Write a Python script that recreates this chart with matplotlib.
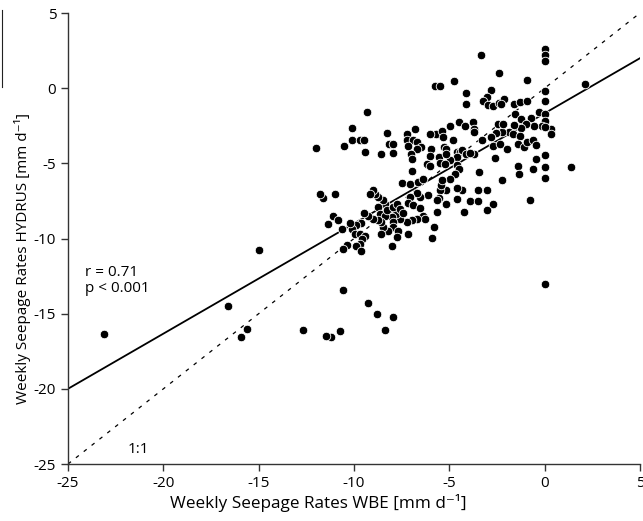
import numpy as np
import matplotlib
matplotlib.use("Agg")
import matplotlib.pyplot as plt
from matplotlib.lines import Line2D

plt.rcParams['font.family'] = ['Open Sans', 'DejaVu Sans']
plt.rcParams['axes.unicode_minus'] = False

# weekly seepage rates [mm/d]: water balance estimate vs HYDRUS
wbe = [
    -3.33, 0.0, 0.0, 0.0, -2.40, -4.73, -5.74, -5.50, -0.92, 2.14,
    -9.34, -4.13, -2.80, -3.01, -3.22, -2.96, -2.70, -2.40, -2.12, -2.30,
    -4.13, -1.63, -1.27, -0.92, 0.0, 0.0, -1.58, -1.25, -0.74, -0.29,
    0.0, 0.0, 0.34, 0.34, -0.16, -0.57, -1.00, -1.23, -1.63, -1.88,
    -1.65, -1.28, -1.39, -1.09, -0.95, -0.60, -0.43, 0.0, 0.0, -0.43,
    0.0, 0.0, -0.60, 1.37, -1.40, -1.35, -0.78,
    -10.13, -10.08, -9.69, -9.48, -9.43, -10.53, -8.29, -8.15, -7.94, -7.94,
    -8.56, -7.24, -6.81, -7.21, -6.90, -6.68, -6.46, -7.16, -6.67, -7.02,
    -6.98, -5.97, -6.02, -6.16, -5.99, -5.55, -5.71, -6.02, -5.41, -4.97,
    -4.48, -4.19, -3.75, -3.71, -3.71, -5.32, -5.29, -5.15, -4.80, -4.62,
    -4.45, -4.31, -4.10, -3.71, -3.92, -4.59, -4.97, -5.50, -5.22, -4.62,
    -4.48, -4.71, -4.97, -5.15, -3.28, -2.70, -2.61, -2.35, -2.00, -2.26,
    -2.56, -2.79, -2.47, -2.21, -3.43, -2.23, -3.05, -3.50, -3.92, -3.49,
    -2.73, -3.05, -4.24, -4.31, -4.62, -4.59, -5.15, -5.18, -5.50, -5.46,
    -5.36, -5.53, -5.67, -5.64, -5.81, -5.93,
    -6.96, -7.47, -7.07, -6.63, -6.37, -6.11, -6.55, -6.72, -7.07, -7.16,
    -6.90, -6.55, -6.37, -6.28, -6.72, -6.98, -7.21, -7.59, -7.80, -8.03,
    -8.15, -8.36, -8.47, -8.73, -8.91, -8.99, -9.17, -8.73, -8.64, -8.38,
    -8.29, -7.94, -7.73, -7.59, -7.42, -7.94, -7.98, -7.68, -8.20, -8.47,
    -8.56, -8.73, -8.99, -9.26, -9.48, -9.64, -9.87, -10.13, -10.22, -9.95,
    -9.69, -9.43, -9.60, -9.69, -9.87, -10.39, -10.57, -9.64, -8.03, -7.77,
    -8.61, -7.16, -11.00, -11.62, -11.79, -11.09, -11.35, -10.83, -10.65,
    -12.01, -15.00,
    -23.11, -16.61, -15.93, -15.60, -12.66, -10.57, -9.29, -8.78, -7.93, -8.36,
    -10.74, -11.23, -11.48, 0.0,
]
hydrus = [
    2.20, 2.64, 2.20, 1.80, 1.02, 0.47, 0.13, 0.13, 0.53, 0.31,
    -1.58, -0.33, -0.15, -0.56, -0.84, -1.09, -1.20, -0.98, -0.73, -1.02,
    -1.02, -1.07, -0.93, -0.84, -0.22, -0.84, -1.69, -2.02, -1.98, -1.58,
    -1.69, -2.18, -2.73, -3.07, -2.53, -2.53, -2.40, -2.62, -2.47, -2.91,
    -3.02, -3.20, -3.73, -3.91, -3.58, -3.47, -3.80, -2.58, -4.47, -4.69,
    -5.24, -5.98, -5.36, -5.24, -5.18, -5.69, -7.47,
    -2.64, -3.42, -3.47, -3.47, -4.24, -3.82, -2.98, -3.69, -3.69, -4.31,
    -4.36, -3.02, -2.73, -3.42, -3.47, -3.58, -3.91, -3.87, -4.02, -4.36,
    -4.69, -4.02, -4.53, -5.07, -5.18, -4.58, -3.07, -3.07, -2.84, -2.53,
    -2.24, -2.53, -2.24, -2.69, -2.91, -3.24, -3.91, -4.07, -3.47, -4.24,
    -4.24, -4.09, -4.36, -4.36, -4.31, -4.58, -4.80, -4.96, -5.02, -5.13,
    -5.36, -5.69, -6.02, -4.40, -3.47, -3.87, -4.62, -3.73, -4.02, -2.91,
    -2.98, -3.24, -2.40, -2.40, -5.58, -6.09, -6.76, -6.80, -7.51, -7.53,
    -7.73, -8.09, -8.24, -6.80, -7.36, -6.62, -6.80, -7.73, -6.80, -6.47,
    -6.13, -7.29, -7.47, -8.24, -9.24, -9.96,
    -5.51, -6.31, -6.40, -6.24, -6.07, -7.09, -7.24, -6.98, -7.24, -7.64,
    -7.80, -7.98, -8.47, -8.69, -8.69, -8.80, -8.91, -8.69, -8.36, -8.58,
    -8.02, -7.69, -7.42, -7.24, -7.02, -6.80, -7.07, -7.91, -8.36, -8.47,
    -8.13, -7.91, -7.73, -8.02, -8.31, -8.91, -9.24, -9.47, -9.47, -9.24,
    -8.91, -8.76, -8.69, -8.53, -8.31, -8.98, -9.13, -9.36, -8.98, -9.69,
    -9.69, -9.80, -10.02, -10.36, -10.53, -10.42, -10.69, -10.80, -10.47, -9.91,
    -9.69, -9.69, -7.07, -7.29, -7.02, -8.47, -9.02, -8.80, -9.36,
    -3.96, -10.76,
    -16.36, -14.51, -16.58, -16.02, -16.07, -13.42, -14.31, -15.02, -15.22, -16.11,
    -16.18, -16.54, -16.47, -13.03,
]

# linear fit
slope = 0.733
intercept = -1.67
r_value = 0.71

fig = plt.figure(figsize=(6.43, 5.21), dpi=100)
ax = fig.add_axes([0.1058, 0.1094, 0.8895, 0.8656])

ax.scatter(wbe, hydrus, s=38, c='black', edgecolors='white', linewidths=0.6, zorder=3)

xl = np.array([-25, 5])
ax.plot(xl, slope * xl + intercept, color='black', lw=1.3, zorder=2)
ax.plot(xl, xl, color='black', lw=0.9, linestyle=(0, (3, 5)), zorder=2)

ax.text(-24.1, -11.75, 'r = %.2f\np < 0.001' % r_value, fontsize=11, va='top', ha='left', linespacing=1.15)
ax.text(-21.85, -24.3, '1:1', fontsize=11, va='baseline', ha='left')

ax.set_xlim(-25, 5)
ax.set_ylim(-25, 5)
ax.set_xticks(range(-25, 6, 5))
ax.set_yticks(range(-25, 6, 5))
for s in ['top', 'right']:
    ax.spines[s].set_visible(False)
for s in ['left', 'bottom']:
    ax.spines[s].set_color('#333333')
    ax.spines[s].set_linewidth(1.0)
ax.tick_params(direction='out', length=5, width=1.0, color='#333333', labelsize=11)

ax.set_xlabel('Weekly Seepage Rates WBE [mm d\u207b\u00b9]', fontsize=12.3)
ax.set_ylabel('Weekly Seepage Rates HYDRUS [mm d\u207b\u00b9]', fontsize=11.0)
ax.xaxis.set_label_coords(0.437, -0.066)
ax.yaxis.set_label_coords(-0.064, 0.455)

# thin rule at the far left edge, top
fig.add_artist(Line2D([0.003, 0.003], [1 - 10 / 521, 1 - 87 / 521], color='#222222', lw=0.8))

fig.savefig('out.png', dpi=100)
